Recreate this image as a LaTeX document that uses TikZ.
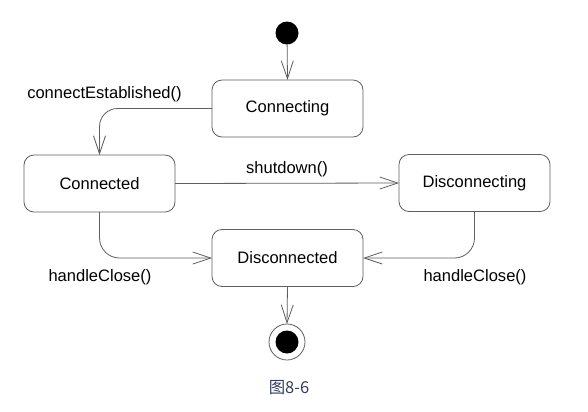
\documentclass[tikz,border=0pt]{standalone}
\usepackage{fontspec}
\setmainfont{Liberation Sans}
\newfontfamily\cjkfont{Noto Sans CJK SC}
\usetikzlibrary{arrows.meta}
\definecolor{linegray}{RGB}{95,95,95}
\definecolor{captioncol}{RGB}{50,62,95}
\tikzset{
  statebox/.style={draw=linegray, line width=0.8bp, rounded corners=10bp,
    minimum width=151bp, minimum height=57bp, inner sep=0pt, outer sep=0pt,
    font=\fontsize{16.6}{19}\selectfont, text=black},
  lbl/.style={font=\fontsize{16.6}{19}\selectfont, text=black, inner sep=0pt},
  trans/.style={draw=linegray, line width=0.8bp,
    -{Straight Barb[length=18bp,width=12bp,line width=0.8bp]}},
}
\begin{document}
\begin{tikzpicture}[x=1bp,y=-1bp]
\useasboundingbox[fill=white] (0,0) rectangle (588,411);
\node[circle, fill=black, minimum size=23bp, inner sep=0pt, outer sep=0pt] (init) at (287,33) {};
\node[statebox] (connecting) at (287.5,108.5) {Connecting};
\node[statebox] (connected) at (99.5,183.5) {Connected};
\node[statebox] (disconnecting) at (474.5,183) {Disconnecting};
\node[statebox] (disconnected) at (287.5,258) {Disconnected};
\node[circle, draw=linegray, line width=0.8bp, minimum size=36bp, inner sep=0pt, outer sep=0pt] (final) at (287,342) {};
\node[circle, fill=black, minimum size=23bp, inner sep=0pt] (finalin) at (final.center) {};
\node[font=\fontsize{16.5}{19}\selectfont\cjkfont, text=captioncol, inner sep=0pt] (caption) at (289,388) {图8-6};

\draw[trans] (init) -- (connecting.north);
\draw[trans, rounded corners=18bp] (connecting.west) -| (connected.north);
\draw[trans] (connected.east) -- (disconnecting.west);
\draw[trans, rounded corners=20bp] (connected.south) |- (disconnected.west);
\draw[trans, rounded corners=20bp] (disconnecting.south) |- (disconnected.east);
\draw[trans] (disconnected.south) -- (final.north);

\node[lbl] (l1) at (104.5,94) {connectEstablished()};
\node[lbl] (l2) at (287,169) {shutdown()};
\node[lbl] (l3) at (100,277) {handleClose()};
\node[lbl] (l4) at (475,277) {handleClose()};
\end{tikzpicture}
\end{document}
